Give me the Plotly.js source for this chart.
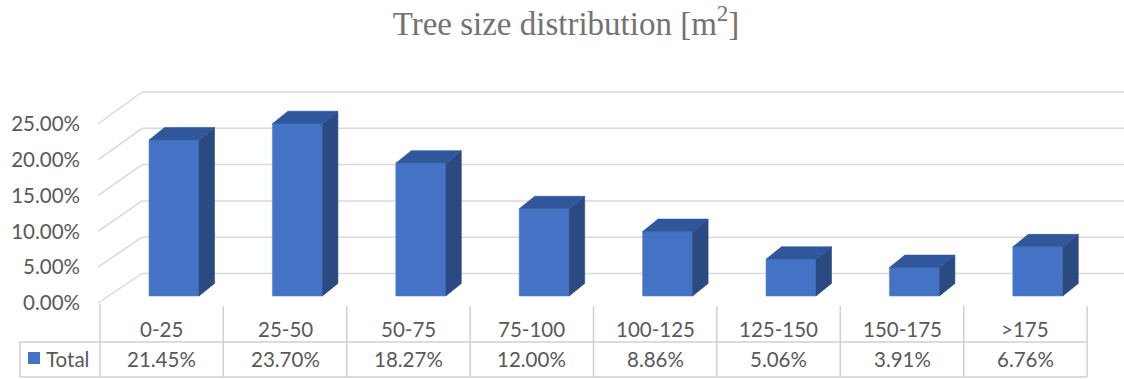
<!DOCTYPE html>
<html>
<head>
<meta charset="utf-8">
<script src="https://cdn.plot.ly/plotly-3.0.1.min.js"></script>
<style>
  html, body { margin: 0; padding: 0; background: #ffffff; }
  #chart { width: 1124px; height: 379px; }
</style>
</head>
<body>
<div id="chart"></div>
<script>
// Tree size classes (m²) and the share of trees in each class
const categories = ['0-25', '25-50', '50-75', '75-100', '100-125', '125-150', '150-175', '>175'];
const shares = [0.2145, 0.2370, 0.1827, 0.1200, 0.0886, 0.0506, 0.0391, 0.0676];
const seriesName = 'Total';
const yTicks = [0, 0.05, 0.10, 0.15, 0.20, 0.25];

// ---- canvas geometry (pixels) ----
const W = 1124, H = 379;
const PX_PER_CAT = 123.4;     // distance between bar fronts
const FIRST_BAR_PX = 174;     // centre of the first bar front
const PX_PER_UNIT = 727;      // vertical pixels per 100 %
const BASE_PX = 296;          // floor line under the bar fronts

const xRange = [-FIRST_BAR_PX / PX_PER_CAT, (W - FIRST_BAR_PX) / PX_PER_CAT];
const yRange = [-(H - BASE_PX) / PX_PER_UNIT, BASE_PX / PX_PER_UNIT];
const pxX = px => (px - FIRST_BAR_PX) / PX_PER_CAT;
const pxY = px => (BASE_PX - px) / PX_PER_UNIT;

// pseudo-3D walls: the back wall sits higher and to the right of the front edge
const backY = v => pxY(273.5 - 726 * v);
const frontY = v => pxY(303 - 716 * v);
const backX = pxX(142);
const frontX = pxX(98);
const wallRight = xRange[1];

// bar box dimensions
const barW = 50 / PX_PER_CAT;
const depthX = 15.5 / PX_PER_CAT;
const depthY = 12.5 / PX_PER_UNIT;

// table columns are shifted slightly left of the bar fronts
const colShift = -12.4 / PX_PER_CAT;

const FRONT = '#4472C4';
const SIDE = '#2B4A82';
const TOP = '#30579C';
const GRID = '#D9D9D9';
const TEXT = '#595959';
const FONT = 'Lato, "Liberation Sans", sans-serif';
const FONT_SIZE = 20.5;

const xs = categories.map((_, i) => i);

// side and top faces of each box, built from the bar values
const sideX = [], sideY = [], topX = [], topY = [];
shares.forEach((v, i) => {
  const r = i + barW / 2, l = i - barW / 2;
  sideX.push(r, r, r + depthX, r + depthX, r, null);
  sideY.push(0, v, v + depthY, depthY, 0, null);
  topX.push(l, r, r + depthX, l + depthX, l, null);
  topY.push(v, v, v + depthY, v + depthY, v, null);
});

const traces = [
  {
    type: 'bar', x: xs, y: shares, width: barW, name: seriesName,
    marker: { color: FRONT, line: { color: '#5B87D6', width: 0.6 } },
    hoverinfo: 'skip', showlegend: false
  },
  {
    type: 'scatter', mode: 'lines', x: sideX, y: sideY, fill: 'toself',
    fillcolor: SIDE, line: { color: SIDE, width: 0.6 }, hoverinfo: 'skip', showlegend: false
  },
  {
    type: 'scatter', mode: 'lines', x: topX, y: topY, fill: 'toself',
    fillcolor: TOP, line: { color: TOP, width: 0.6 }, hoverinfo: 'skip', showlegend: false
  }
];

const shapes = [];
// back-wall gridlines and left-wall diagonals
yTicks.forEach(v => {
  shapes.push({ type: 'line', layer: 'below', x0: backX, x1: wallRight, y0: backY(v), y1: backY(v),
    line: { color: GRID, width: 1.5 } });
  shapes.push({ type: 'line', layer: 'below', x0: frontX, x1: backX, y0: frontY(v), y1: backY(v),
    line: { color: GRID, width: 1.5 } });
});

// data table grid
const TABLE_LINE = { color: '#D0D0D0', width: 1.5 };
for (let k = 0; k <= categories.length; k++) {
  const xb = k - 0.5 + colShift;
  shapes.push({ type: 'line', x0: xb, x1: xb, y0: pxY(k === 0 ? 304 : 306), y1: pxY(377), line: TABLE_LINE });
}
const tableRight = categories.length - 0.5 + colShift;
shapes.push({ type: 'line', x0: pxX(20), x1: tableRight, y0: pxY(342), y1: pxY(342), line: TABLE_LINE });
shapes.push({ type: 'line', x0: pxX(20), x1: tableRight, y0: pxY(377), y1: pxY(377), line: TABLE_LINE });
shapes.push({ type: 'line', x0: pxX(20), x1: pxX(20), y0: pxY(342), y1: pxY(377), line: TABLE_LINE });
// legend key in the table
shapes.push({ type: 'rect', x0: pxX(28), x1: pxX(40), y0: pxY(364), y1: pxY(352),
  fillcolor: FRONT, line: { width: 0 } });

const annotations = [];
categories.forEach((c, i) => {
  annotations.push({ x: i + colShift, y: pxY(329), text: c, showarrow: false,
    xanchor: 'center', yanchor: 'middle', font: { family: FONT, size: FONT_SIZE, color: TEXT } });
  annotations.push({ x: i + colShift, y: pxY(359), text: (shares[i] * 100).toFixed(2) + '%', showarrow: false,
    xanchor: 'center', yanchor: 'middle', font: { family: FONT, size: FONT_SIZE, color: TEXT } });
});
annotations.push({ x: pxX(44), y: pxY(359), text: seriesName, showarrow: false,
  xanchor: 'left', yanchor: 'middle', font: { family: FONT, size: FONT_SIZE, color: TEXT } });

const layout = {
  width: W, height: H,
  margin: { l: 0, r: 0, t: 0, b: 0, pad: 0 },
  paper_bgcolor: '#ffffff', plot_bgcolor: 'rgba(0,0,0,0)',
  showlegend: false,
  title: {
    text: 'Tree size distribution [m<sup>2</sup>]',
    x: 566 / W, xanchor: 'center', xref: 'paper',
    y: 1 - 23 / H, yanchor: 'middle', yref: 'paper',
    font: { family: '"Liberation Serif", "Times New Roman", serif', size: 33, color: '#767171' }
  },
  xaxis: {
    range: xRange, domain: [0, 1], showgrid: false, zeroline: false,
    showline: false, showticklabels: false, ticks: '', fixedrange: true
  },
  yaxis: {
    range: yRange, domain: [0, 1], anchor: 'free', position: 80 / W, side: 'left',
    tickmode: 'array', tickvals: yTicks.map(frontY),
    ticktext: yTicks.map(v => (v * 100).toFixed(2) + '%'),
    showgrid: false, zeroline: false, showline: false, ticks: '',
    tickfont: { family: FONT, size: FONT_SIZE, color: TEXT }, fixedrange: true
  },
  shapes: shapes,
  annotations: annotations
};

Plotly.newPlot('chart', traces, layout, { staticPlot: true, displayModeBar: false });
</script>
</body>
</html>
